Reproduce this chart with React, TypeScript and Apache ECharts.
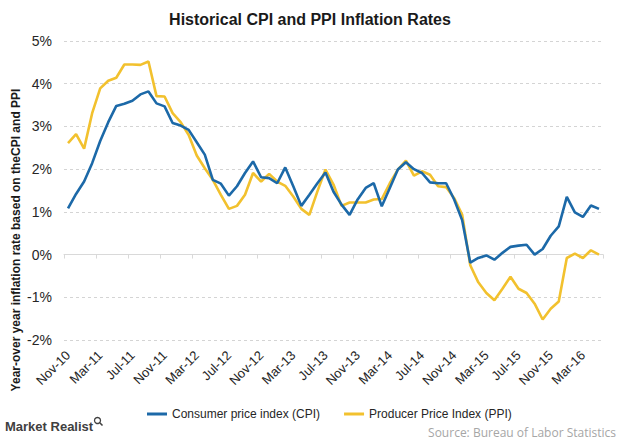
import React, { useEffect, useRef } from "react";
import * as echarts from "echarts";

const months: string[] = [
  "Nov-10", "Dec-10",
  "Jan-11", "Feb-11", "Mar-11", "Apr-11", "May-11", "Jun-11", "Jul-11", "Aug-11", "Sep-11", "Oct-11", "Nov-11", "Dec-11",
  "Jan-12", "Feb-12", "Mar-12", "Apr-12", "May-12", "Jun-12", "Jul-12", "Aug-12", "Sep-12", "Oct-12", "Nov-12", "Dec-12",
  "Jan-13", "Feb-13", "Mar-13", "Apr-13", "May-13", "Jun-13", "Jul-13", "Aug-13", "Sep-13", "Oct-13", "Nov-13", "Dec-13",
  "Jan-14", "Feb-14", "Mar-14", "Apr-14", "May-14", "Jun-14", "Jul-14", "Aug-14", "Sep-14", "Oct-14", "Nov-14", "Dec-14",
  "Jan-15", "Feb-15", "Mar-15", "Apr-15", "May-15", "Jun-15", "Jul-15", "Aug-15", "Sep-15", "Oct-15", "Nov-15", "Dec-15",
  "Jan-16", "Feb-16", "Mar-16", "Apr-16", "May-16",
];

const cpi: number[] = [
  1.08, 1.42,
  1.71, 2.14, 2.66, 3.1, 3.48, 3.53, 3.6, 3.75, 3.82, 3.54, 3.47, 3.08,
  3.02, 2.92, 2.63, 2.34, 1.75, 1.66, 1.38, 1.6, 1.91, 2.18, 1.81, 1.79,
  1.67, 2.04, 1.6, 1.14, 1.4, 1.67, 1.92, 1.47, 1.17, 0.93, 1.29, 1.56,
  1.67, 1.13, 1.56, 1.99, 2.16, 2.0, 1.91, 1.69, 1.67, 1.67, 1.29, 0.8,
  -0.19, -0.08, -0.02, -0.12, 0.04, 0.18, 0.21, 0.23, 0.0, 0.13, 0.44, 0.66,
  1.35, 0.99, 0.88, 1.15, 1.07,
];

const ppi: number[] = [
  2.61, 2.82,
  2.48, 3.31, 3.89, 4.07, 4.14, 4.45, 4.45, 4.44, 4.52, 3.71, 3.7, 3.31,
  3.1, 2.8, 2.32, 2.02, 1.75, 1.4, 1.07, 1.14, 1.4, 1.91, 1.71, 1.89,
  1.71, 1.61, 1.36, 1.07, 0.93, 1.48, 1.99, 1.64, 1.14, 1.22, 1.22, 1.22,
  1.29, 1.3, 1.67, 1.99, 2.2, 1.85, 1.95, 1.87, 1.6, 1.58, 1.32, 0.93,
  -0.25, -0.65, -0.9, -1.07, -0.8, -0.52, -0.8, -0.9, -1.15, -1.52, -1.27, -1.1,
  -0.08, 0.02, -0.08, 0.1, 0.0,
];

const FONT = "Liberation Sans, Arial, sans-serif";
const BLUE = "#1c69a8";
const YELLOW = "#f2c12e";

export default function App() {
  const ref = useRef<HTMLDivElement>(null);
  useEffect(() => {
    if (!ref.current) return;
    const chart = echarts.init(ref.current, null, { renderer: "svg" });
    chart.setOption({
      animation: false,
      backgroundColor: "#ffffff",
      textStyle: { fontFamily: FONT },
      title: {
        text: "Historical CPI and PPI Inflation Rates",
        left: "center",
        top: 6,
        textStyle: { fontFamily: FONT, fontSize: 16, fontWeight: "bold", color: "#1a1a1a" },
      },
      grid: { left: 64, right: 17, top: 41, bottom: 103, containLabel: false },
      legend: {
        top: 403,
        left: 142,
        itemWidth: 20,
        itemHeight: 3,
        itemGap: 24,
        icon: "rect",
        textStyle: { fontFamily: FONT, fontSize: 12, color: "#262626" },
        data: ["Consumer price index (CPI)", "Producer Price Index (PPI)"],
      },
      xAxis: [
        {
          type: "category",
          data: months,
          boundaryGap: true,
          axisLine: { show: true, onZero: true, lineStyle: { color: "#d9d9d9", width: 1 } },
          axisTick: { show: true, interval: 3, length: 4, lineStyle: { color: "#d9d9d9" } },
          axisLabel: { show: false },
          splitLine: { show: false },
        },
        {
          type: "category",
          data: months,
          boundaryGap: true,
          position: "bottom",
          axisLine: { show: false, onZero: false },
          axisTick: { show: false },
          axisLabel: {
            show: true,
            interval: 3,
            rotate: 45,
            margin: 13,
            fontFamily: FONT,
            fontSize: 13,
            color: "#262626",
          },
          splitLine: { show: false },
        },
      ],
      yAxis: {
        type: "value",
        min: -2,
        max: 5,
        interval: 1,
        axisLine: { show: false },
        axisTick: { show: false },
        axisLabel: {
          formatter: "{value}%",
          margin: 12,
          fontFamily: FONT,
          fontSize: 14,
          color: "#262626",
        },
        splitLine: { show: true, lineStyle: { color: "#d4d4d4", type: [3, 3], width: 1 } },
      },
      series: [
        {
          name: "Consumer price index (CPI)",
          type: "line",
          xAxisIndex: 0,
          data: cpi,
          symbol: "none",
          lineStyle: { color: BLUE, width: 2.6 },
          itemStyle: { color: BLUE },
          z: 3,
        },
        {
          name: "Producer Price Index (PPI)",
          type: "line",
          xAxisIndex: 0,
          data: ppi,
          symbol: "none",
          lineStyle: { color: YELLOW, width: 2.6 },
          itemStyle: { color: YELLOW },
          z: 2,
        },
      ],
      graphic: [
        {
          type: "text",
          x: 16,
          y: 240,
          rotation: Math.PI / 2,
          style: {
            text: "Year-over year inflation rate based on theCPI and PPI",
            font: "bold 12px " + FONT,
            fill: "#1a1a1a",
            align: "center",
            verticalAlign: "middle",
          },
        },
        {
          type: "text",
          left: 5,
          top: 420,
          style: {
            text: "Market Realist",
            font: "bold 13px " + FONT,
            fill: "#404040",
          },
        },
        {
          type: "circle",
          shape: { cx: 97.5, cy: 420.5, r: 3 },
          style: { fill: "none", stroke: "#404040", lineWidth: 1.3 },
        },
        {
          type: "line",
          shape: { x1: 99.8, y1: 422.8, x2: 102.5, y2: 425.5 },
          style: { stroke: "#404040", lineWidth: 1.6 },
        },
        {
          type: "text",
          right: 4,
          top: 426,
          style: {
            text: "Source: Bureau of Labor Statistics",
            font: "12px Open Sans, " + FONT,
            fill: "#a6a6a6",
          },
        },
      ],
    });
    return () => chart.dispose();
  }, []);
  return (
    <div
      ref={ref}
      style={{ position: "fixed", left: 0, top: 0, width: 620, height: 443 }}
    />
  );
}
